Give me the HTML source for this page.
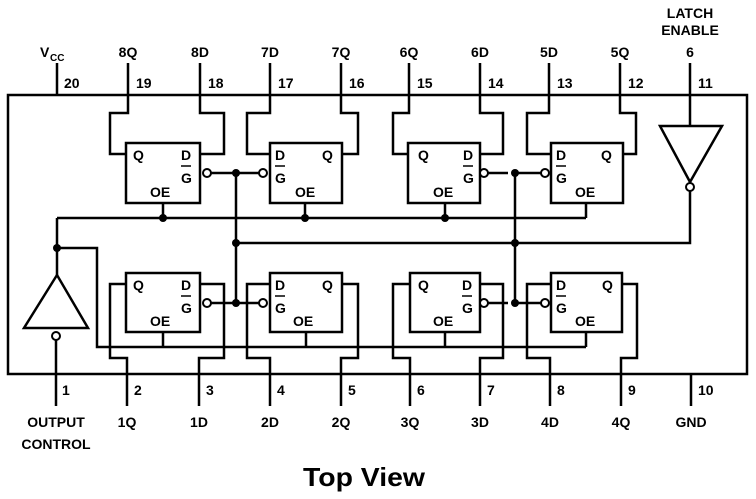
<!DOCTYPE html>
<html><head><style>body{margin:0;background:#fff}svg{display:block}</style></head>
<body>
<svg width="756" height="499" viewBox="0 0 756 499" xmlns="http://www.w3.org/2000/svg">
<g fill="none" stroke="#000" stroke-width="2.5" stroke-linejoin="miter">
<rect x="8" y="95" width="739" height="279"/>
<path d="M57 63V95M128 63V95M200 63V95M270 63V95M341 63V95M409 63V95M480 63V95M549 63V95M620 63V95M690 63V95"/>
<path d="M56 374V406M127 374V406M199 374V406M270 374V406M341 374V406M410 374V406M480 374V406M550 374V406M621 374V406M691 374V406"/>
<rect x="126" y="143" width="74" height="60"/>
<rect x="270" y="143" width="72" height="60"/>
<rect x="408" y="143" width="72" height="60"/>
<rect x="551" y="143" width="72" height="60"/>
<rect x="126" y="273" width="74" height="59"/>
<rect x="270" y="273" width="72" height="59"/>
<rect x="410" y="273" width="70" height="59"/>
<rect x="551" y="273" width="71" height="59"/>
<path d="M128 95V113H110V154H126M200 95V113H224V154H200M270 95V113H247V154H270M341 95V113H358V154H342"/>
<path d="M409 95V113H393V154H408M480 95V113H503V154H480M549 95V113H527V154H551M620 95V113H636V154H623"/>
<path d="M127 374V358H110V284H126M199 374V358H224V284H200M270 374V358H247V284H270M341 374V358H358V284H342"/>
<path d="M410 374V358H393V284H410M480 374V358H503V284H480M550 374V358H527V284H551M621 374V358H637V284H622"/>
<path d="M211 173H259M236 173V303M211 303H259M484 173H508M515 173V303M484 303H508M515 173H547M515 303H547"/>
<path d="M236 243H690V191"/>
<path d="M163 203V218M305 203V218M445 203V218M586 203V218M57 218H586M57 218V275"/>
<path d="M57 248H97V347H586M163 332V347M306 332V347M445 332V347M586 332V347"/>
<path d="M57 275L24 328H88Z"/>
<path d="M56 340V374"/>
<path d="M690 95V126M660 126H722L690 182Z"/>
</g>
<g fill="#fff" stroke="#000" stroke-width="2">
<circle cx="207" cy="173" r="4"/><circle cx="263" cy="173" r="4"/>
<circle cx="484" cy="173" r="4"/><circle cx="545" cy="173" r="4"/>
<circle cx="207" cy="303" r="4"/><circle cx="263" cy="303" r="4"/>
<circle cx="484" cy="303" r="4"/><circle cx="545" cy="303" r="4"/>
<circle cx="56" cy="336" r="4"/><circle cx="690" cy="187" r="4"/>
</g>
<g fill="#000">
<circle cx="236" cy="173" r="4"/><circle cx="236" cy="243" r="4"/><circle cx="236" cy="303" r="4"/>
<circle cx="515" cy="173" r="4"/><circle cx="515" cy="243" r="4"/><circle cx="515" cy="303" r="4"/>
<circle cx="163" cy="218" r="4"/><circle cx="305" cy="218" r="4"/><circle cx="445" cy="218" r="4"/>
<circle cx="57" cy="248" r="4"/>
</g>
<g font-family="Liberation Sans, sans-serif" font-weight="bold" font-size="14" fill="#000">
<text x="40" y="57">V</text><text x="50" y="61" font-size="10">CC</text>
<g text-anchor="middle">
<text x="128" y="57">8Q</text><text x="200" y="57">8D</text><text x="270" y="57">7D</text><text x="341" y="57">7Q</text>
<text x="409" y="57">6Q</text><text x="480" y="57">6D</text><text x="549" y="57">5D</text><text x="620" y="57">5Q</text>
<text x="690" y="57">6</text><text x="690" y="18">LATCH</text><text x="690" y="35">ENABLE</text>
</g>
<text x="64" y="88">20</text><text x="136" y="88">19</text><text x="208" y="88">18</text><text x="278" y="88">17</text><text x="349" y="88">16</text>
<text x="417" y="88">15</text><text x="488" y="88">14</text><text x="557" y="88">13</text><text x="628" y="88">12</text><text x="698" y="88">11</text>
<text x="62" y="395">1</text><text x="134" y="395">2</text><text x="206" y="395">3</text><text x="277" y="395">4</text><text x="348" y="395">5</text>
<text x="417" y="395">6</text><text x="487" y="395">7</text><text x="557" y="395">8</text><text x="628" y="395">9</text><text x="698" y="395">10</text>
<g text-anchor="middle">
<text x="56" y="427">OUTPUT</text><text x="56" y="449">CONTROL</text>
<text x="127" y="427">1Q</text><text x="199" y="427">1D</text><text x="270" y="427">2D</text><text x="341" y="427">2Q</text>
<text x="410" y="427">3Q</text><text x="480" y="427">3D</text><text x="550" y="427">4D</text><text x="621" y="427">4Q</text><text x="691" y="427">GND</text>
</g>
<text x="133" y="160">Q</text><text x="181" y="160">D</text><text x="181" y="183">G</text><text x="150" y="197">OE</text>
<text x="275" y="160">D</text><text x="322" y="160">Q</text><text x="275" y="183">G</text><text x="295" y="197">OE</text>
<text x="418" y="160">Q</text><text x="463" y="160">D</text><text x="463" y="183">G</text><text x="433" y="197">OE</text>
<text x="556" y="160">D</text><text x="601" y="160">Q</text><text x="556" y="183">G</text><text x="575" y="197">OE</text>
<text x="133" y="290">Q</text><text x="181" y="290">D</text><text x="181" y="313">G</text><text x="150" y="326">OE</text>
<text x="275" y="290">D</text><text x="322" y="290">Q</text><text x="275" y="313">G</text><text x="293" y="326">OE</text>
<text x="418" y="290">Q</text><text x="462" y="290">D</text><text x="462" y="313">G</text><text x="433" y="326">OE</text>
<text x="556" y="290">D</text><text x="602" y="290">Q</text><text x="556" y="313">G</text><text x="575" y="326">OE</text>
<text x="364" y="486" font-size="26" text-anchor="middle" textLength="122" lengthAdjust="spacingAndGlyphs">Top View</text>
</g>
<g stroke="#000" stroke-width="1.5">
<path d="M181 166H191M275 166H285M463 166H473M556 166H566M181 296H191M275 296H285M462 296H472M556 296H566"/>
</g>
</svg>
</body></html>
